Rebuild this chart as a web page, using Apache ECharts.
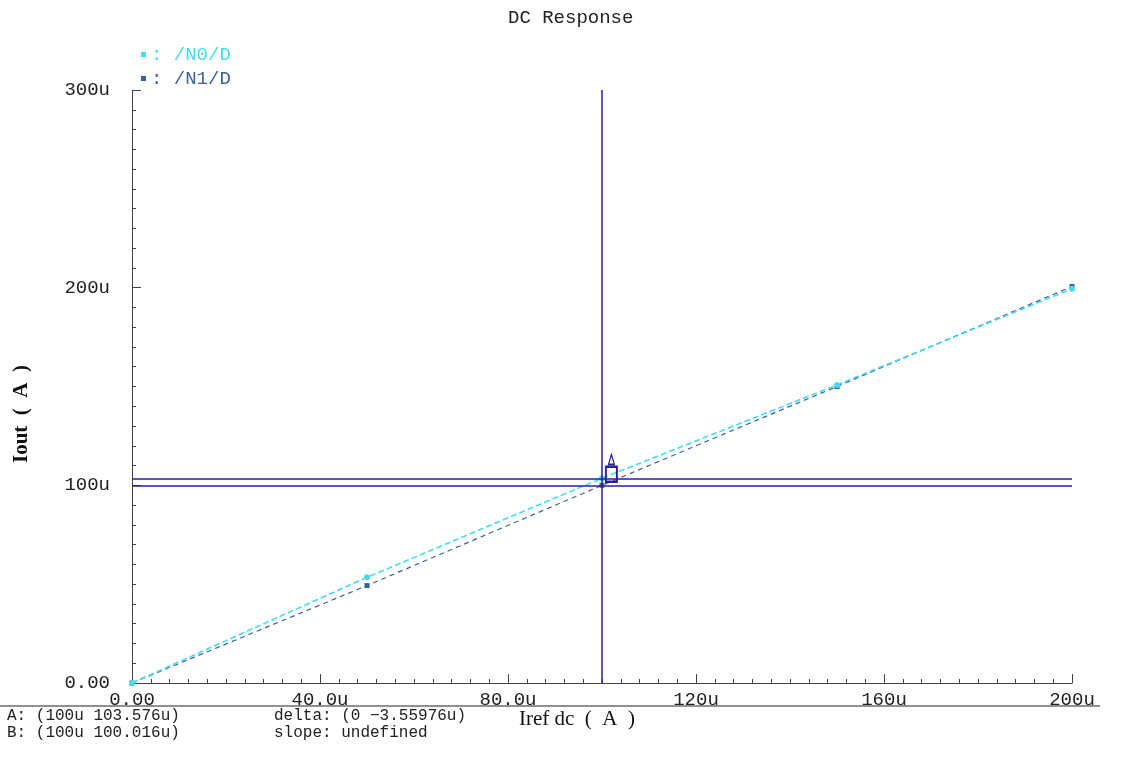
<!DOCTYPE html>
<html>
<head>
<meta charset="utf-8">
<script src="https://cdn.jsdelivr.net/npm/echarts@6/dist/echarts.min.js"></script>
<style>
  html, body { margin: 0; padding: 0; background: #fff; }
  #chart { width: 1127px; height: 778px; }
</style>
</head>
<body>
<div id="chart"></div>
<script>
// sweep points of Iref dc, in u (micro amps)
var irefPoints = [0, 50, 100, 150, 200];
// Iout of each drain, in u
var n0Values = [0, 53.5, 103.576, 150.8, 199.5];
var n1Values = [0, 49.3, 100.016, 150.0, 200.6];
// cursors A and B
var cursorX = 100;
var cursorA = 103.576;
var cursorB = 100.016;
var xTicks = {0: '0.00', 40: '40.0u', 80: '80.0u', 120: '120u', 160: '160u', 200: '200u'};
var yTicks = {0: '0.00', 100: '100u', 200: '200u', 300: '300u'};

var mono = '"Liberation Mono", "DejaVu Sans Mono", monospace';
var serif = '"Liberation Serif", "DejaVu Serif", serif';
var cyan = '#45dcf2';
var blue = '#3d5fa0';
var navy = '#2b1e9c';

function pairs(xs, ys) {
    var out = [];
    for (var i = 0; i < xs.length; i++) {
        out.push([xs[i], ys[i]]);
    }
    return out;
}

var myChart = echarts.init(document.getElementById('chart'));
var option = {
    animation: false,
    title: {
        text: 'DC Response',
        left: 503,
        top: 3,
        textStyle: {
            fontFamily: mono,
            fontSize: 19,
            fontWeight: 'normal',
            color: '#222'
        }
    },
    legend: {
        orient: 'vertical',
        left: 136,
        top: 40,
        itemGap: 5,
        itemWidth: 5,
        itemHeight: 5,
        icon: 'rect',
        formatter: function (name) {
            return ': ' + name;
        },
        data: [
            {name: '/N0/D', textStyle: {color: cyan}},
            {name: '/N1/D', textStyle: {color: blue}}
        ],
        textStyle: {
            fontFamily: mono,
            fontSize: 19
        }
    },
    grid: {
        left: 132,
        right: 55,
        top: 90,
        bottom: 95
    },
    xAxis: {
        type: 'value',
        min: 0,
        max: 200,
        interval: 40,
        axisLine: {
            show: true,
            lineStyle: {color: '#444', width: 1}
        },
        axisTick: {
            show: true,
            inside: true,
            length: 9,
            lineStyle: {color: '#444'}
        },
        minorTick: {
            show: true,
            splitNumber: 10,
            length: 4,
            lineStyle: {color: '#444'}
        },
        splitLine: {show: false},
        axisLabel: {
            margin: 7,
            fontFamily: mono,
            fontSize: 19,
            color: '#222',
            formatter: function (v) {
                return xTicks[v];
            }
        }
    },
    yAxis: {
        type: 'value',
        min: 0,
        max: 300,
        interval: 100,
        axisLine: {
            show: true,
            lineStyle: {color: '#444', width: 1}
        },
        axisTick: {
            show: true,
            inside: true,
            length: 9,
            lineStyle: {color: '#444'}
        },
        minorTick: {
            show: true,
            splitNumber: 10,
            length: 4,
            lineStyle: {color: '#444'}
        },
        splitLine: {show: false},
        axisLabel: {
            margin: 22,
            fontFamily: mono,
            fontSize: 19,
            color: '#222',
            formatter: function (v) {
                return yTicks[v];
            }
        }
    },
    series: [
        {
            name: '/N0/D',
            type: 'line',
            data: pairs(irefPoints, n0Values),
            symbol: 'circle',
            symbolSize: 6,
            itemStyle: {color: cyan},
            lineStyle: {color: cyan, width: 1.6, type: [6, 3]},
            z: 3,
            markLine: {
                silent: true,
                symbol: 'none',
                label: {show: false},
                lineStyle: {color: navy, width: 1.5, type: 'solid'},
                data: [
                    {xAxis: cursorX},
                    {yAxis: cursorA},
                    {yAxis: cursorB}
                ]
            },
            markPoint: {
                silent: true,
                label: {show: false},
                data: [
                    {
                        coord: [cursorX + 2, cursorA + 2],
                        symbol: 'rect',
                        symbolSize: [11, 15],
                        itemStyle: {color: 'rgba(0,0,0,0)', borderColor: navy, borderWidth: 2.2}
                    },
                    {
                        coord: [cursorX + 2, cursorA + 9.5],
                        symbol: 'triangle',
                        symbolSize: [6, 10],
                        itemStyle: {color: 'rgba(0,0,0,0)', borderColor: navy, borderWidth: 1.4}
                    }
                ]
            }
        },
        {
            name: '/N1/D',
            type: 'line',
            data: pairs(irefPoints, n1Values),
            symbol: 'rect',
            symbolSize: 5,
            itemStyle: {color: blue},
            lineStyle: {color: blue, width: 1.2, type: [5, 4]},
            z: 2
        }
    ],
    graphic: [
        {
            type: 'text',
            left: 11,
            top: 365,
            rotation: Math.PI / 2,
            style: {
                text: 'Iout  (  A  )',
                font: 'bold 21px ' + serif,
                fill: '#111'
            }
        },
        {
            type: 'text',
            left: 519,
            top: 709,
            style: {
                text: 'Iref dc  (  A  )',
                font: '21px ' + serif,
                fill: '#111'
            }
        },
        {
            type: 'line',
            shape: {x1: 0, y1: 706, x2: 1100, y2: 706},
            style: {stroke: '#222', lineWidth: 1.2}
        },
        {
            type: 'text',
            left: 7,
            top: 707,
            style: {
                text: 'A: (100u 103.576u)\nB: (100u 100.016u)',
                font: '16px ' + mono,
                lineHeight: 17,
                fill: '#222'
            }
        },
        {
            type: 'text',
            left: 274,
            top: 707,
            style: {
                text: 'delta: (0 \u22123.55976u)\nslope: undefined',
                font: '16px ' + mono,
                lineHeight: 17,
                fill: '#222'
            }
        }
    ]
};
myChart.setOption(option);
</script>
</body>
</html>
